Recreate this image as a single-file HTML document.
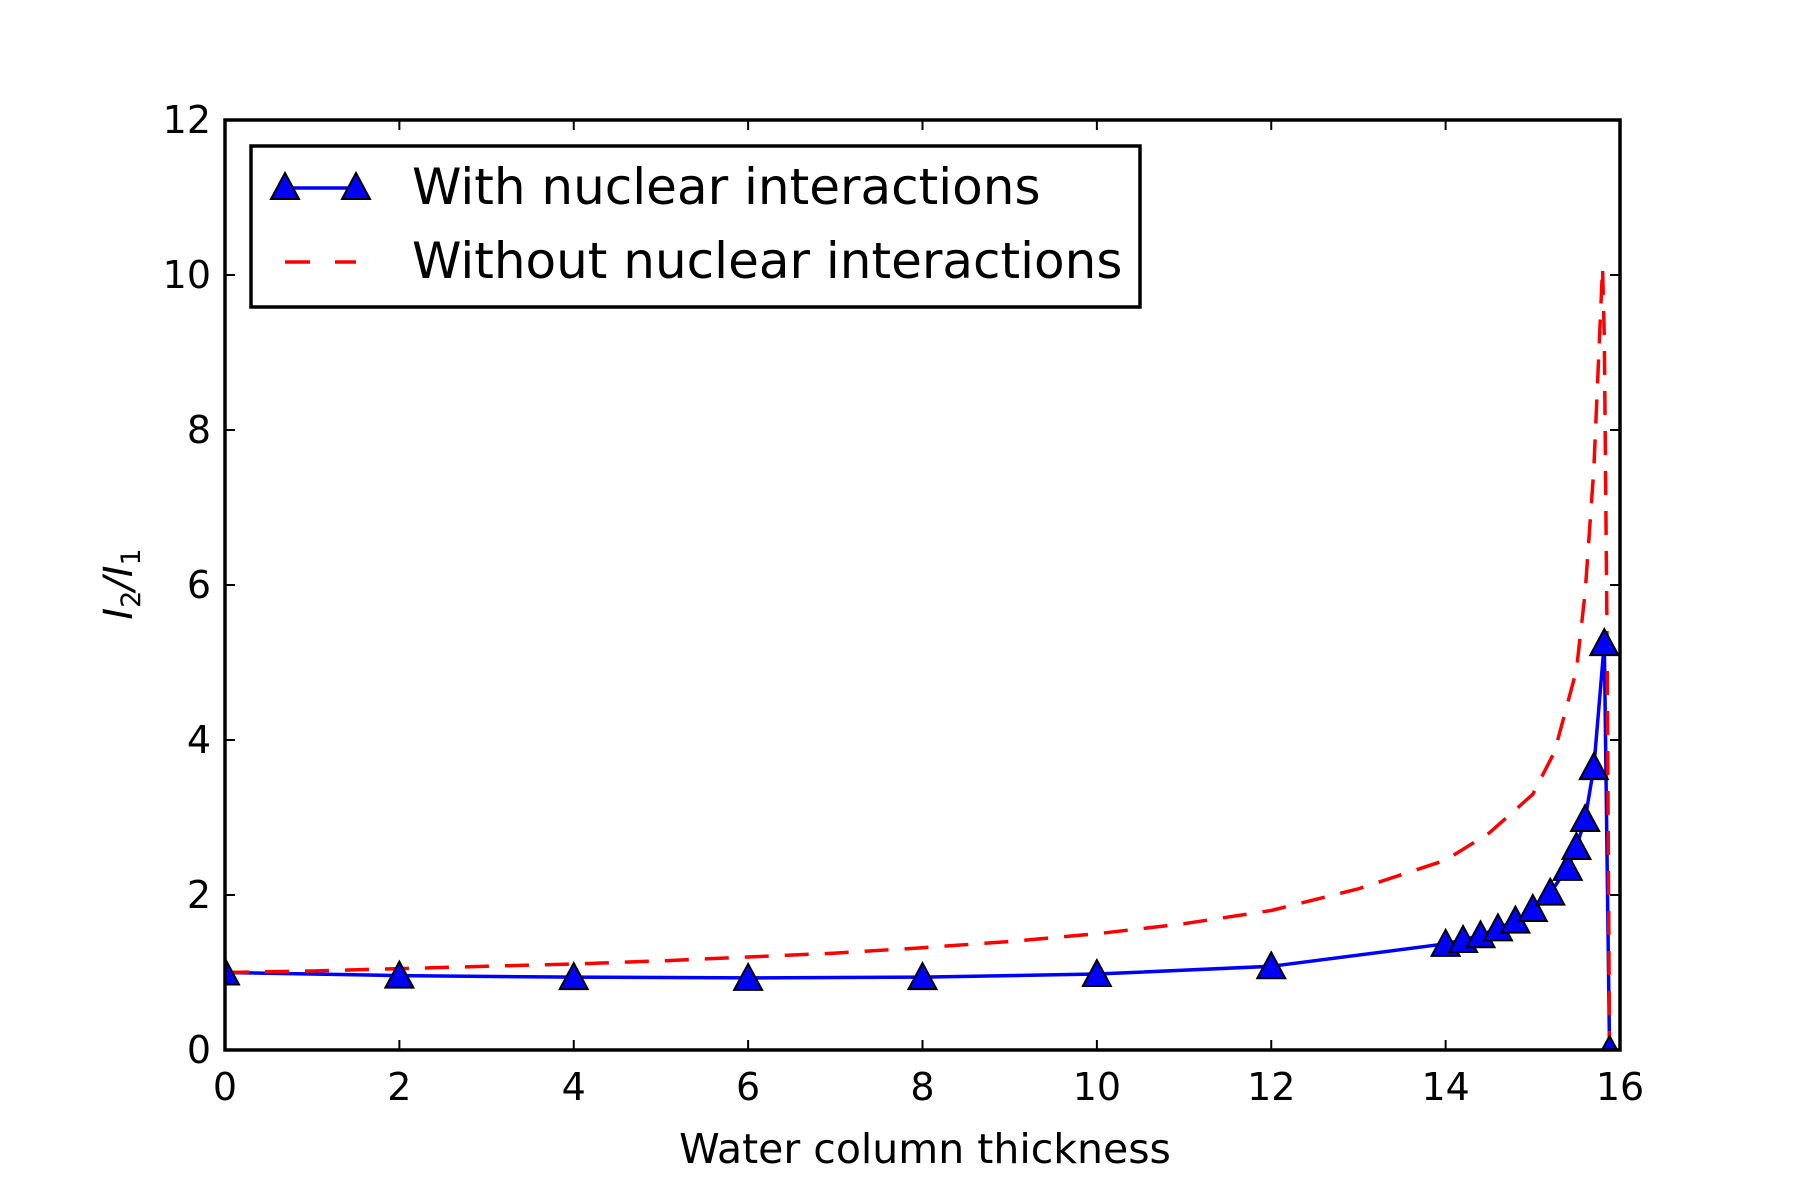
<!DOCTYPE html>
<html><head><meta charset="utf-8"><style>
body{margin:0;background:#fff}
svg{display:block}
text{font-family:"DejaVu Sans","Liberation Sans",sans-serif;fill:#000}
</style></head><body>
<svg id="chart" width="1800" height="1200">
<defs><clipPath id="clip"><rect x="225" y="120" width="1395" height="930"/></clipPath></defs>
<rect width="1800" height="1200" fill="#fff"/>
<g id="ticks"></g>
<g id="series" clip-path="url(#clip)"></g>
<rect x="225" y="120" width="1395" height="930" fill="none" stroke="#000" stroke-width="3.5"/>
<text x="925" y="1163" font-size="41" text-anchor="middle">Water column thickness</text>
<text transform="translate(132,584) rotate(-90)" font-size="40" text-anchor="middle" font-family="Liberation Serif,serif" font-style="italic">I<tspan font-size="27" dy="8" font-style="normal">2</tspan><tspan dy="-8">/I</tspan><tspan font-size="27" dy="8" font-style="normal">1</tspan></text>
<g>
<rect x="251" y="146" width="889" height="161" fill="#fff" stroke="#000" stroke-width="3.5"/>
<line x1="285" y1="188" x2="356" y2="188" stroke="#0000ff" stroke-width="3.5"/>
<polygon points="285,173 299,199 271,199" fill="#0000ff" stroke="#000" stroke-width="2"/>
<polygon points="356,173 370,199 342,199" fill="#0000ff" stroke="#000" stroke-width="2"/>
<text x="412" y="204" font-size="50">With nuclear interactions</text>
<line x1="285" y1="262" x2="356" y2="262" stroke="#ff0000" stroke-width="3.5" stroke-dasharray="25,25"/>
<text x="412" y="278" font-size="50">Without nuclear interactions</text>
</g>
</svg>
<script>
const xTicks=[0,2,4,6,8,10,12,14,16];
const yTicks=[0,2,4,6,8,10,12];
const withX=[0,2,4,6,8,10,12,14,14.2,14.4,14.6,14.8,15,15.2,15.4,15.5,15.6,15.7,15.82,15.88];
const withY=[1.0,0.96,0.94,0.93,0.94,0.98,1.08,1.37,1.42,1.48,1.57,1.67,1.82,2.03,2.35,2.62,2.98,3.65,5.25,0];
const withoutX=[0,1,2,3,4,5,6,7,8,9,10,11,12,13,14,14.5,15,15.25,15.5,15.6,15.7,15.75,15.8,15.82,15.85,15.88];
const withoutY=[1,1.02,1.05,1.08,1.11,1.15,1.2,1.25,1.32,1.4,1.5,1.63,1.8,2.08,2.45,2.8,3.3,3.85,4.9,5.9,7.5,8.8,10.1,9.2,5.5,0];
const X0=225,X1=1620,Y0=1050,Y1=120;
const sx=v=>X0+(v-0)/16*(X1-X0);
const sy=v=>Y0-(v-0)/12*(Y0-Y1);
const NS="http://www.w3.org/2000/svg";
const tg=document.getElementById('ticks'),sg=document.getElementById('series');
function mk(tag,at,parent){const e=document.createElementNS(NS,tag);for(const k in at)e.setAttribute(k,at[k]);parent.appendChild(e);return e;}
xTicks.forEach(v=>{
 const x=sx(v);
 const a=mk('line',{x1:x,y1:Y0,x2:x,y2:Y0-10,stroke:'#000','stroke-width':2},tg);
 
 
 const b=mk('line',{x1:x,y1:Y1,x2:x,y2:Y1+10,stroke:'#000','stroke-width':2},tg);
 
 
 const t=mk('text',{x:x,y:Y0+50,'font-size':38,'text-anchor':'middle'},tg);
 t.textContent=v;
 
 
});
yTicks.forEach(v=>{
 const y=sy(v);
 const a=mk('line',{x1:X0,y1:y,x2:X0+10,y2:y,stroke:'#000','stroke-width':2},tg);
 
 
 const b=mk('line',{x1:X1,y1:y,x2:X1-10,y2:y,stroke:'#000','stroke-width':2},tg);
 
 
 const t=mk('text',{x:X0-14,y:y+13,'font-size':38,'text-anchor':'end'},tg);
 t.textContent=v;
 
 
});
const bl=mk('polyline',{points:withX.map((x,i)=>sx(x)+','+sy(withY[i])).join(' '),fill:'none',stroke:'#0000ff','stroke-width':3.5},sg);


const rl=mk('polyline',{points:withoutX.map((x,i)=>sx(x)+','+sy(withoutY[i])).join(' '),fill:'none',stroke:'#ff0000','stroke-width':3.5,'stroke-dasharray':'24,16'},sg);


withX.forEach((x,i)=>{
 const cx=sx(x),cy=sy(withY[i]);
 const p=mk('polygon',{points:`${cx},${cy-14} ${cx+14},${cy+12} ${cx-14},${cy+12}`,fill:'#0000ff',stroke:'#000','stroke-width':2},sg);
 
 
});
</script>
</body></html>
